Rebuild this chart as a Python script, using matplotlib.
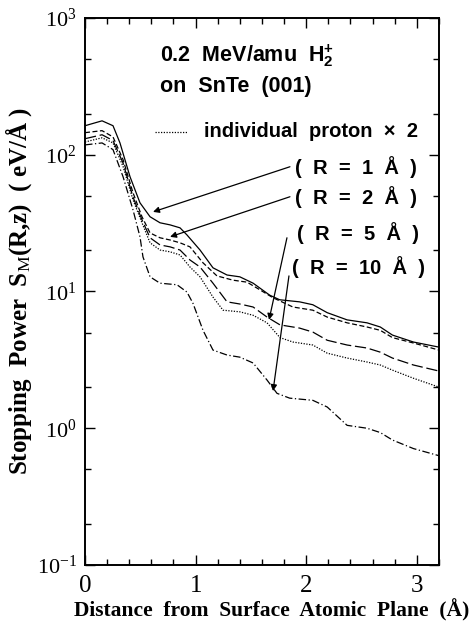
import matplotlib
matplotlib.use('Agg')
import matplotlib.pyplot as plt
from matplotlib.ticker import LogLocator, MultipleLocator, NullFormatter, FixedLocator

"""
Data read off the figure
"""
x_r1 = [0, 0.154, 0.253, 0.316, 0.407, 0.497, 0.588, 0.678, 0.769, 0.859, 0.922, 1.04, 1.157,
        1.284, 1.40, 1.52, 1.67, 1.76, 1.94, 2.06, 2.19, 2.37, 2.55, 2.67, 2.78, 2.97, 3.2]
s_r1 = [163, 177, 163, 122, 69, 44.5, 35.2, 31.8, 30.7, 29.2, 25.9, 20.1, 14.9,
        13.2, 12.8, 11.5, 9.4, 8.7, 8.4, 8.0, 7.0, 6.2, 5.9, 5.5, 4.8, 4.27, 3.92]

x_r2 = [0, 0.154, 0.253, 0.344, 0.434, 0.515, 0.588, 0.678, 0.769, 0.859, 0.949, 1.067, 1.193,
        1.338, 1.465, 1.58, 1.70, 1.88, 2.06, 2.19, 2.37, 2.55, 2.67, 2.78, 2.97, 3.2]
s_r2 = [145, 150, 135, 92, 52.7, 35.2, 26.8, 24.7, 23.8, 22.7, 21.2, 16.2, 13.0,
        12.1, 11.7, 10.3, 9.0, 7.7, 7.3, 6.5, 5.9, 5.5, 5.2, 4.6, 4.2, 3.73]

x_r5 = [0, 0.154, 0.253, 0.344, 0.434, 0.515, 0.588, 0.678, 0.769, 0.859, 0.949, 1.04, 1.157,
        1.284, 1.40, 1.52, 1.646, 1.763, 1.94, 2.06, 2.19, 2.37, 2.55, 2.67, 2.78, 2.97, 3.2]
s_r5 = [131, 140, 127, 87, 49, 33.4, 24.7, 21.9, 21.2, 20.1, 17.0, 15.1, 11.5,
        8.4, 8.1, 7.7, 6.5, 5.7, 5.4, 5.05, 4.4, 4.06, 3.86, 3.6, 3.26, 2.9, 2.62]

x_ind = [0, 0.154, 0.253, 0.344, 0.434, 0.515, 0.588, 0.678, 0.769, 0.859, 0.949, 1.04, 1.157,
         1.248, 1.40, 1.52, 1.646, 1.763, 1.88, 2.06, 2.19, 2.37, 2.55, 2.67, 2.78, 2.97, 3.2]
s_ind = [124, 133, 122, 82, 46.8, 31.8, 22.7, 20.1, 19.5, 18.5, 15.1, 12.8, 9.1,
         7.3, 7.1, 6.7, 5.9, 4.6, 4.27, 4.06, 3.54, 3.26, 3.05, 2.9, 2.66, 2.32, 2.0]

x_r10 = [0, 0.154, 0.253, 0.344, 0.434, 0.497, 0.524, 0.588, 0.678, 0.832, 0.922, 0.976, 1.067,
         1.157, 1.284, 1.40, 1.52, 1.646, 1.736, 1.85, 2.06, 2.19, 2.37, 2.55, 2.67, 2.78, 2.97, 3.2]
s_r10 = [118, 122, 109, 69, 39.5, 25.1, 17.9, 12.8, 11.5, 11.2, 9.9, 8.2, 5.2,
         3.73, 3.43, 3.31, 3.0, 2.25, 1.80, 1.66, 1.60, 1.43, 1.05, 1.0, 0.93, 0.82, 0.71, 0.63]

r_labels = ['(  R  =  1  Å  )', '(  R  =  2  Å  )', '(  R  =  5  Å  )', '(  R  =  10  Å  )']

"""
Fonts
"""
plt.rcParams['font.family'] = 'Liberation Serif'
plt.rcParams['mathtext.fontset'] = 'custom'
plt.rcParams['mathtext.rm'] = 'Liberation Serif'
plt.rcParams['mathtext.bf'] = 'Liberation Serif:bold'
plt.rcParams['mathtext.sf'] = 'Liberation Sans:bold'
plt.rcParams['mathtext.it'] = 'Liberation Serif:italic'

fig = plt.figure(figsize=(4.75, 6.31), dpi=100)
ax = fig.add_axes([0.179, 0.1046, 0.745, 0.8669])

lw = 0.9
ax.plot(x_r1, s_r1, color='k', lw=lw, ls='-')
ax.plot(x_r2, s_r2, color='k', lw=lw, ls=(0, (4, 2)))
ax.plot(x_r5, s_r5, color='k', lw=lw, ls=(0, (9, 3)))
ax.plot(x_ind, s_ind, color='k', lw=lw, ls=(0, (1, 1.2)))
ax.plot(x_r10, s_r10, color='k', lw=lw, ls=(0, (6, 2, 1, 2)))

ax.set_yscale('log')
ax.set_xlim(0, 3.2)
ax.set_ylim(0.1, 1000)
ax.xaxis.set_major_locator(FixedLocator([0, 1, 2, 3]))
ax.xaxis.set_minor_locator(MultipleLocator(0.2))
ax.yaxis.set_major_locator(LogLocator(base=10, numticks=10))
ax.yaxis.set_minor_locator(LogLocator(base=10, subs=[2, 5], numticks=10))
ax.yaxis.set_minor_formatter(NullFormatter())
ax.tick_params(which='both', direction='in', top=True, right=True, width=1.0)
ax.tick_params(which='major', length=7, pad=6)
ax.tick_params(axis='y', which='major', labelsize=16)
ax.tick_params(axis='x', which='major', labelsize=18, pad=7)
ax.tick_params(which='minor', length=4)
for sp in ax.spines.values():
    sp.set_linewidth(1.4)

ax.set_xlabel('Distance  from  Surface  Atomic  Plane  (Å)', fontsize=15.5, fontweight='bold')
ax.xaxis.set_label_coords(0.528, -0.062)
ax.set_ylabel(r'Stopping  Power  S$_\mathrm{M}$(R,z)  ( eV/Å )', fontsize=18, fontweight='bold', labelpad=2)

sans = dict(family='Liberation Sans', fontweight='bold', transform=ax.transAxes, va='center', ha='left')
ax.text(0.212, 0.930, r'0.2  MeV/amu  $\mathsf{H}_\mathsf{2}^\mathsf{+}$', fontsize=15.5, **sans)
ax.text(0.212, 0.874, 'on  SnTe  (001)', fontsize=15.5, **sans)

ax.plot([0.198, 0.291], [0.792, 0.792], transform=ax.transAxes, color='k', lw=lw, ls=(0, (1, 1.2)))
ax.text(0.336, 0.792, 'individual  proton  ×  2', fontsize=14.5, **sans)

label_pos = [(0.593, 0.728), (0.593, 0.673), (0.599, 0.607), (0.585, 0.545)]
for lab, pos in zip(r_labels, label_pos):
    ax.text(pos[0], pos[1], lab, fontsize=14.5, **sans)

arrows = [((1.853, 81.7), (0.615, 38.2)),
          ((1.853, 49.3), (0.769, 25.1)),
          ((1.826, 24.7), (1.664, 6.2)),
          ((1.844, 13.0), (1.70, 1.87))]
for tail, head in arrows:
    ax.annotate('', xy=head, xytext=tail,
                arrowprops=dict(arrowstyle='-|>', color='k', lw=0.9, mutation_scale=9,
                                shrinkA=0, shrinkB=0))

fig.savefig('out.png', dpi=100)
